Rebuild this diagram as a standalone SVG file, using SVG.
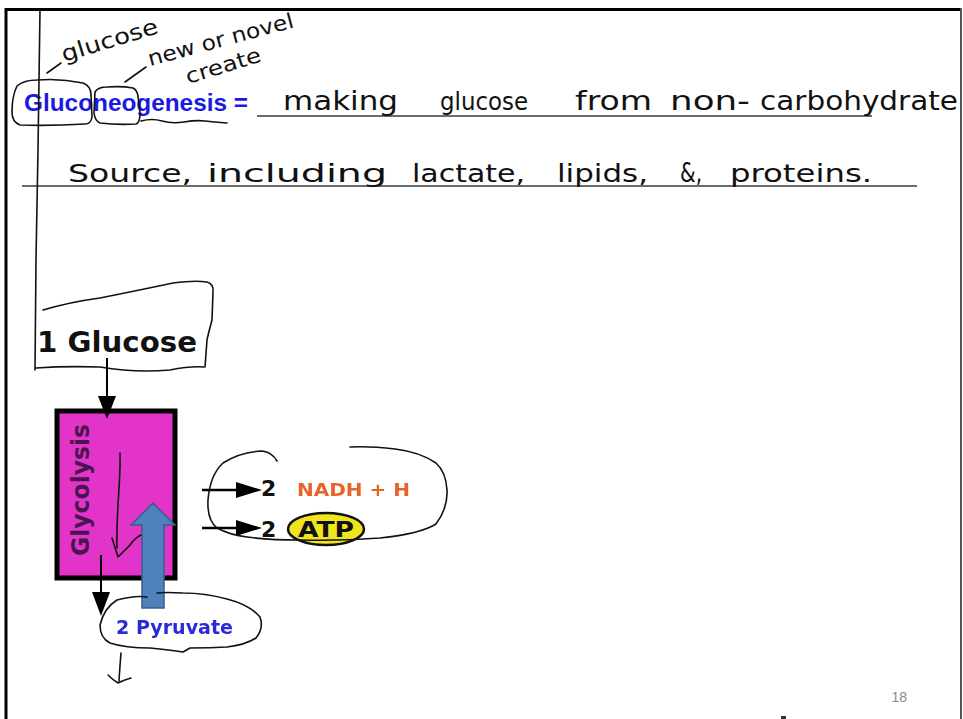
<svg xmlns="http://www.w3.org/2000/svg" width="963" height="719" viewBox="0 0 963 719">
<defs>
<style>
.hw{font-family:"DejaVu Sans","Liberation Sans",sans-serif;fill:#111;font-weight:normal}
.sk{fill:none;stroke:#111;stroke-width:1.6;stroke-linecap:round;stroke-linejoin:round}
.rule{stroke:#3a3a3a;stroke-width:1.6}
.comic{font-family:"DejaVu Sans","Liberation Sans",sans-serif;font-weight:bold}
</style>
<filter id="soft" x="-5%" y="-20%" width="110%" height="140%"><feGaussianBlur stdDeviation="0.7"/></filter>
</defs>
<rect x="0" y="0" width="963" height="719" fill="#fff"/>
<!-- frame -->
<line x1="6" y1="8" x2="6" y2="719" stroke="#000" stroke-width="3"/>
<line x1="5" y1="9.5" x2="961" y2="9.5" stroke="#000" stroke-width="3"/>
<line x1="961" y1="8" x2="961" y2="719" stroke="#555" stroke-width="2"/>

<!-- title -->
<g id="title">
<text x="24" y="111" font-family="Liberation Sans, Arial, sans-serif" font-weight="bold" font-size="24" fill="#1a1ae0" textLength="224" lengthAdjust="spacingAndGlyphs">Gluconeogenesis =</text>
<line class="rule" x1="257" y1="116" x2="872" y2="116"/>
<line class="rule" x1="22" y1="186" x2="917" y2="186"/>
</g>

<!-- handwritten definition -->
<g id="definition">
<text class="hw" font-size="26" x="283" y="110" textLength="115" lengthAdjust="spacingAndGlyphs">making</text>
<text class="hw" font-size="24" x="440" y="110" textLength="88" lengthAdjust="spacingAndGlyphs">glucose</text>
<text class="hw" font-size="26" x="575" y="110" textLength="77" lengthAdjust="spacingAndGlyphs">from</text>
<text class="hw" font-size="26" x="670" y="110" textLength="80" lengthAdjust="spacingAndGlyphs">non-</text>
<text class="hw" font-size="26" x="760" y="110" textLength="198" lengthAdjust="spacingAndGlyphs">carbohydrate</text>
<text class="hw" font-size="25" x="68" y="182" textLength="124" lengthAdjust="spacingAndGlyphs">Source,</text>
<text class="hw" font-size="25" x="207" y="182" textLength="180" lengthAdjust="spacingAndGlyphs">including</text>
<text class="hw" font-size="25" x="412" y="182" textLength="113" lengthAdjust="spacingAndGlyphs">lactate,</text>
<text class="hw" font-size="25" x="557" y="182" textLength="91" lengthAdjust="spacingAndGlyphs">lipids,</text>
<text class="hw" font-size="27" x="680" y="182" textLength="22" lengthAdjust="spacingAndGlyphs">&amp;,</text>
<text class="hw" font-size="25" x="730" y="182" textLength="142" lengthAdjust="spacingAndGlyphs">proteins.</text>
</g>

<!-- annotations -->
<g id="annotations">
<line class="sk" x1="47" y1="73" x2="61" y2="63"/>
<text class="hw" font-size="22" transform="translate(64,62) rotate(-17)" textLength="100" lengthAdjust="spacingAndGlyphs">glucose</text>
<line class="sk" x1="125" y1="82" x2="146" y2="67"/>
<text class="hw" font-size="21" transform="translate(150,66) rotate(-15)" textLength="150" lengthAdjust="spacingAndGlyphs">new or novel</text>
<text class="hw" font-size="21" transform="translate(188,84) rotate(-17)" textLength="78" lengthAdjust="spacingAndGlyphs">create</text>
<path class="sk" d="M37,80 Q60,78 83,83 Q91,86 91,95 L92,117 Q91,124 85,124 Q50,126 20,125 Q12,122 12,112 Q12,96 17,86 Q24,80 37,80"/>
<path class="sk" d="M95,92 Q98,87 107,87 Q122,86 133,88 Q137,90 138,96 L140,113 Q140,123 136,124 Q117,125 100,123 Q95,121 94,113 Z"/>
<path class="sk" d="M141,121 Q152,118 162,121 T184,122 T205,121 T227,123"/>
</g>

<!-- glucose node -->
<g id="glucose">
<path class="sk" d="M40,10 L38,150 L36,260 L35,370"/>
<path class="sk" d="M43,310 Q70,302 100,298 Q140,290 173,283 Q195,280 207,282 Q214,284 213,292 L212,320 Q208,335 207,340 L205,367"/>
<path class="sk" d="M36,368 Q65,366 100,367 Q135,373 170,370 Q190,366 204,367"/>
<text class="comic" x="37" y="352" font-size="29" fill="#111" textLength="160" lengthAdjust="spacingAndGlyphs">1 Glucose</text>
</g>

<!-- glycolysis node -->
<g id="glycolysis">
<rect x="57" y="411" width="118" height="167" fill="#e234c8" stroke="#000" stroke-width="5"/>
<text class="comic" transform="translate(89,556) rotate(-90)" font-size="25" fill="#4a1450" textLength="132" lengthAdjust="spacingAndGlyphs">Glycolysis</text>
</g>

<!-- products -->
<g id="nadh">
<text class="comic" x="261" y="496" font-size="22" fill="#111">2</text>
<text class="comic" x="297" y="496" font-size="17" fill="#e8642a" filter="url(#soft)" textLength="113" lengthAdjust="spacingAndGlyphs">NADH + H</text>
</g>
<g id="atp">
<text class="comic" x="261" y="537" font-size="22" fill="#111">2</text>
<ellipse cx="326" cy="529" rx="38" ry="16" fill="#f0e41e" stroke="#111" stroke-width="2.5"/>
<text class="comic" x="326" y="537" font-size="21" fill="#111" text-anchor="middle" textLength="56" lengthAdjust="spacingAndGlyphs">ATP</text>
</g>

<g id="pyruvate">
<text class="comic" x="116" y="634" font-size="19" fill="#2a2ad8" filter="url(#soft)" textLength="117" lengthAdjust="spacingAndGlyphs">2 Pyruvate</text>
</g>

<!-- connectors -->
<g id="connectors">
<line x1="107" y1="358" x2="107" y2="400" stroke="#000" stroke-width="2"/>
<path d="M98,396 L116,396 L107,419 z" fill="#000"/>
<line x1="101" y1="555" x2="101" y2="596" stroke="#000" stroke-width="2"/>
<path d="M92,592 L110,592 L101,616 z" fill="#000"/>
<line x1="202" y1="490" x2="240" y2="490" stroke="#000" stroke-width="2.5"/>
<path d="M236,482 L262,490 L236,498 z" fill="#000"/>
<line x1="202" y1="528" x2="240" y2="528" stroke="#000" stroke-width="2.5"/>
<path d="M236,520 L262,528 L236,536 z" fill="#000"/>
<path d="M142,608 L142,525 L131,525 L153,503 L175,525 L164,525 L164,608 Z" fill="#4f81bd" stroke="#385d8a" stroke-width="1.5"/>
</g>

<!-- hand sketches over diagram -->
<g id="sketches">
<path class="sk" d="M120,453 C121,480 116,510 117,548 M112,538 L118,557 L130,545 Q135,538 141,535"/>
<path class="sk" d="M277,461 Q272,452 262,451 Q240,452 223,463 Q210,475 208,500 Q207,520 217,528 Q230,535 247,537 Q270,540 300,540 Q340,541 380,538 Q420,534 436,524 Q448,508 447,490 Q446,472 436,463 Q420,452 395,449 Q370,446 350,447"/>
<path class="sk" d="M147,597 Q135,595 117,600 Q104,608 100,625 Q100,638 110,643 Q125,648 150,648 Q170,650 183,652 L190,648 Q210,648 227,647 Q245,645 256,638 Q264,628 260,617 Q250,605 227,599 Q205,593 183,593 Q165,592 157,593"/>
<path class="sk" d="M121,653 Q120,665 119,681 M108,675 Q113,680 118,683 Q124,680 131,678"/>
</g>

<text x="907" y="702" font-family="Liberation Sans, Arial, sans-serif" font-size="14" fill="#8a8a8a" text-anchor="end">18</text>
<rect x="781" y="716" width="5" height="3" fill="#333"/>
</svg>
